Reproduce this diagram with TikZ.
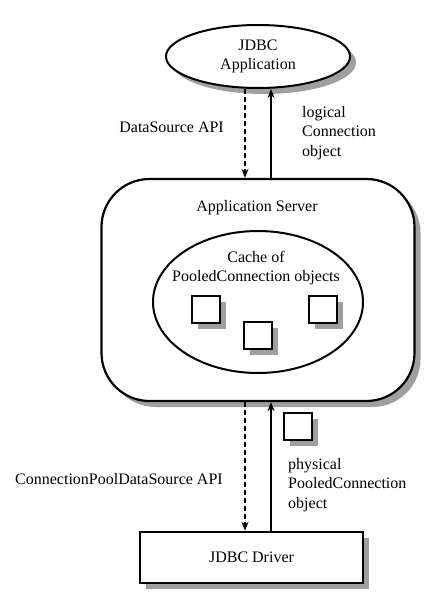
\documentclass[tikz,border=0pt]{standalone}
\usepackage{fontspec}
\setmainfont{Liberation Serif}
\usetikzlibrary{shapes.geometric,shadows,arrows.meta}
\begin{document}
\begin{tikzpicture}[x=1pt,y=-1pt,
  every node/.style={font=\fontsize{16}{19.5}\selectfont, inner sep=0pt},
  shad/.style={drop shadow={shadow xshift=6pt, shadow yshift=-6pt, fill=gray!75, opacity=1}},
  ovalbox/.style={ellipse, draw, line width=2pt, fill=white},
  srvbox/.style={rectangle, draw, line width=2.2pt, fill=white, rounded corners=48pt},
  objsq/.style={rectangle, draw, line width=2pt, fill=white, minimum width=28pt, minimum height=27pt, shad},
  drvbox/.style={rectangle, draw, line width=2.5pt, fill=white, minimum width=223pt, minimum height=51pt, shad},
  req/.style={line width=2pt, dash pattern=on 5pt off 3pt, -{Stealth[length=9pt,width=7pt]}},
  ret/.style={line width=2pt, -{Stealth[length=9pt,width=7pt]}},
  txt/.style={align=left}
]
\useasboundingbox (0,0) rectangle (443,607);
% JDBC Application
\node[ovalbox, shad, minimum width=184pt, minimum height=63pt, align=center] (app) at (258,56.5) {JDBC\\Application};
% Application Server
\node[srvbox, shad, minimum width=313pt, minimum height=222pt] (srv) at (258,290) {};
\node (srvlbl) at (257,208) {Application Server};
% Cache
\node[ovalbox, line width=2pt, minimum width=210pt, minimum height=142pt] (cache) at (258,302) {};
\node[align=center] (cachelbl) at (256,268) {Cache of\\PooledConnection objects};
\node[objsq] (sqa) at (206,309.5) {};
\node[objsq] (sqb) at (258,335.5) {};
\node[objsq] (sqc) at (323,309.5) {};
% JDBC Driver
\node[drvbox] (drv) at (251.5,557.5) {JDBC Driver};
\node[objsq] (sqd) at (297.5,426.5) {};
% connectors
\draw[req] ([xshift=-13pt]app.south) -- ([xshift=-13pt]srv.north);
\draw[ret] ([xshift=13pt]srv.north) -- ([xshift=13pt]app.south);
\draw[req] ([xshift=-13pt]srv.south) -- ([xshift=-6.5pt]drv.north);
\draw[ret] ([xshift=19.5pt]drv.north) -- ([xshift=13pt]srv.south);
% labels
\node[anchor=east] (dsapi) at (224,127) {DataSource API};
\node[txt, anchor=west] (logc) at (302,133) {logical\\Connection\\object};
\node[anchor=west] (cpapi) at (15,479) {ConnectionPoolDataSource API};
\node[txt, anchor=west] (physc) at (288,485) {physical\\PooledConnection\\object};
\end{tikzpicture}
\end{document}
